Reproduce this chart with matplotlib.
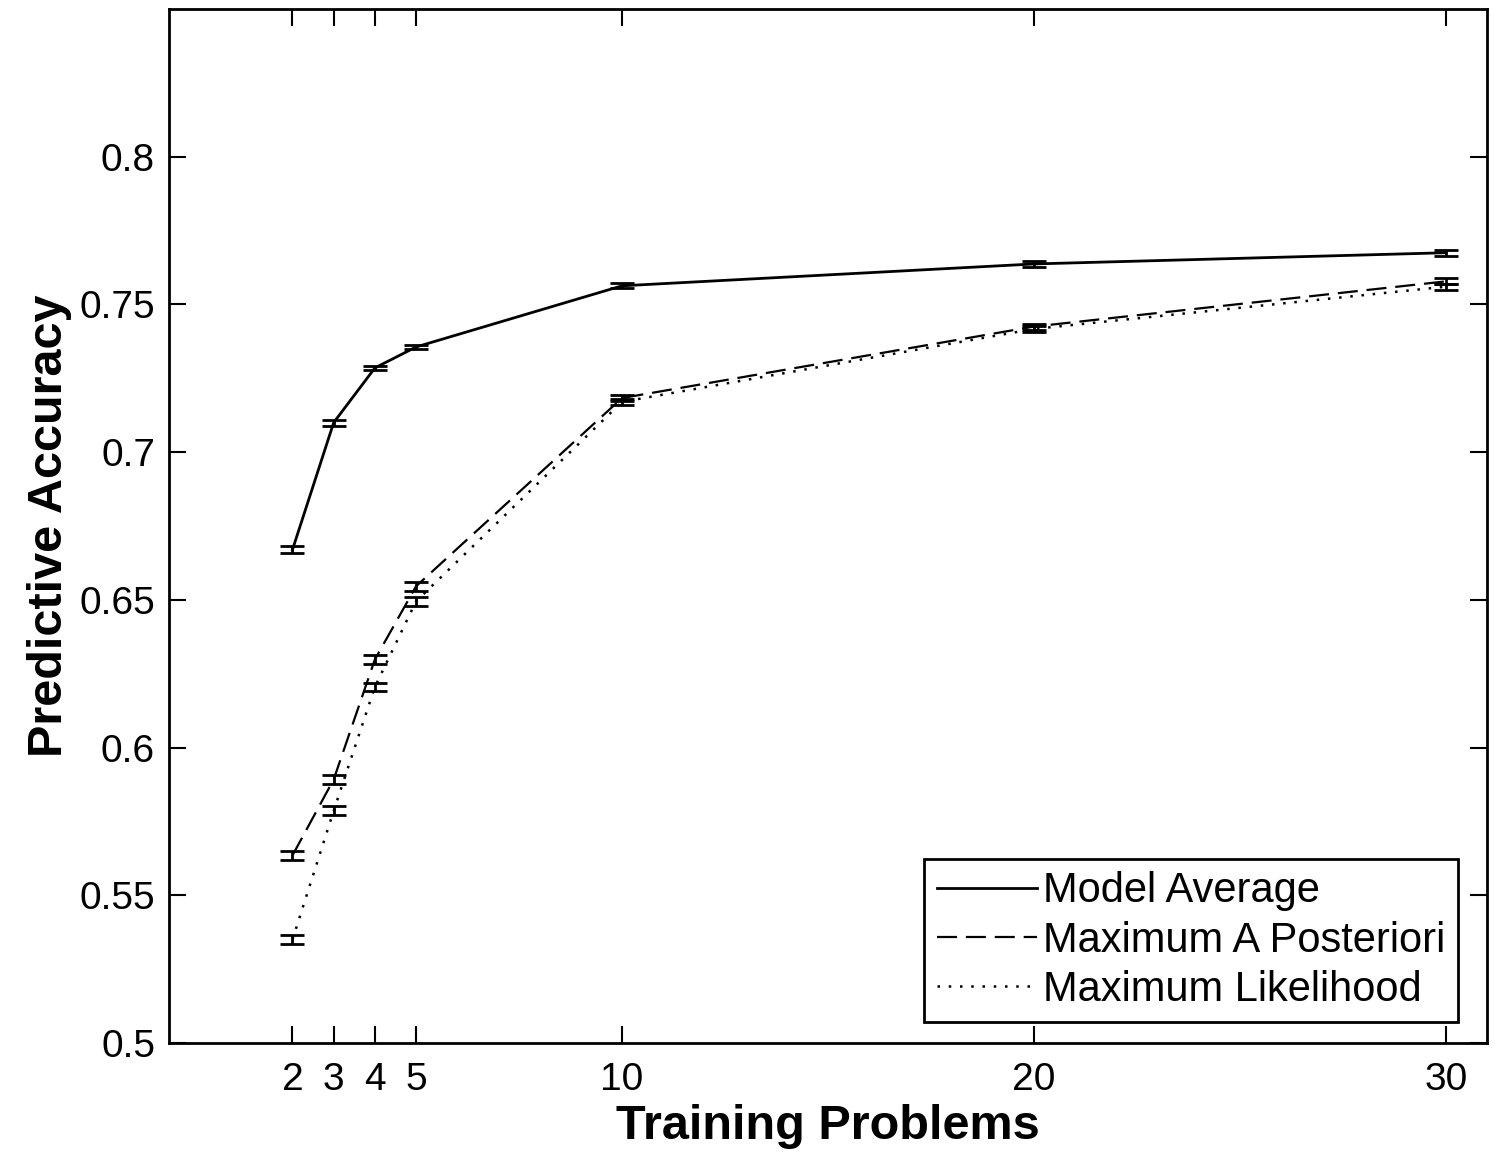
import numpy as np
import matplotlib
matplotlib.use('Agg')
import matplotlib.pyplot as plt
from matplotlib.lines import Line2D

plt.rcParams['font.family'] = ['Liberation Sans', 'DejaVu Sans']

x = [2, 3, 4, 5, 10, 20, 30]
model_avg = [0.667, 0.710, 0.7285, 0.7356, 0.7563, 0.7637, 0.7675]
model_avg_err = [0.0012, 0.0010, 0.0008, 0.0008, 0.0008, 0.0010, 0.0010]
map_acc = [0.5635, 0.5892, 0.6298, 0.6546, 0.7183, 0.7425, 0.7578]
map_err = [0.0015, 0.0015, 0.0015, 0.0015, 0.0010, 0.0010, 0.0010]
ml_acc = [0.535, 0.5786, 0.6205, 0.6495, 0.7170, 0.7417, 0.7560]
ml_err = [0.0015, 0.0015, 0.0015, 0.0015, 0.0010, 0.0010, 0.0010]
labels = ['Model Average', 'Maximum A Posteriori', 'Maximum Likelihood']

styles = ['-', (0, (9, 4)), (0, (1, 3.5))]
widths = [2, 1.6, 1.8]

fig = plt.figure(figsize=(14.95, 11.56), dpi=100)
ax = fig.add_axes([0.113, 0.0978, 0.8816, 0.8944])

for ys, es, ls, lw in zip([model_avg, map_acc, ml_acc], [model_avg_err, map_err, ml_err], styles, widths):
    ax.errorbar(x, ys, yerr=es, color='k', linestyle=ls, linewidth=lw,
                capsize=8.6, capthick=2, elinewidth=2)

ax.set_xlim(-1, 31)
ax.set_ylim(0.5, 0.85)
ax.set_xticks(x)
ax.set_xticklabels([str(v) for v in x])
ax.set_yticks([0.5, 0.55, 0.6, 0.65, 0.7, 0.75, 0.8])
ax.set_yticklabels(['0.5', '0.55', '0.6', '0.65', '0.7', '0.75', '0.8'])
ax.tick_params(direction='in', length=12, width=1.5, labelsize=28, top=True, right=True)
ax.tick_params(axis='x', pad=14)
ax.tick_params(axis='y', pad=10)
for s in ax.spines.values():
    s.set_linewidth(2)

ax.set_xlabel('Training Problems', fontsize=35, fontweight='bold', labelpad=4)
ax.set_ylabel('Predictive Accuracy', fontsize=35, fontweight='bold', labelpad=5)

handles = [Line2D([], [], color='k', linestyle=ls, linewidth=lw) for ls, lw in zip(styles, widths)]
leg = ax.legend(handles, labels, loc='lower right', fontsize=30, frameon=True, fancybox=False,
                edgecolor='k', framealpha=1, handlelength=2.4, handletextpad=0.15, borderpad=0.3,
                labelspacing=0.22, borderaxespad=0, bbox_to_anchor=(0.978, 0.02))
leg.get_frame().set_linewidth(2)

fig.savefig('out.png', dpi=100, facecolor='white')
